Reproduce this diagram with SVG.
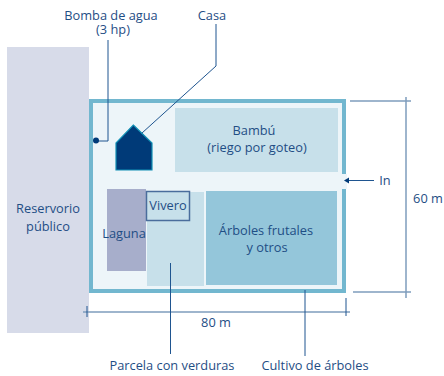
<svg xmlns="http://www.w3.org/2000/svg" width="444" height="376" viewBox="0 0 444 376">
<style>
text{font-family:"Open Sans","Liberation Sans",sans-serif;font-size:12.800px;fill:#1f4e85;text-anchor:middle}
.l{fill:none;stroke:#1f5590;stroke-width:1}
.d{fill:none;stroke:#7f9dbd;stroke-width:1.5}
</style>
<rect width="444" height="376" fill="#fff"/>
<g id="reservorio"><rect x="7" y="47" width="82" height="286" fill="#d7dbe9"/><text x="48" y="213">Reservorio</text><text x="48" y="231">público</text></g>
<g id="campo"><rect x="91" y="101" width="253" height="190" fill="#edf5f9" stroke="#72b7cf" stroke-width="4"/><rect x="341" y="174" width="6" height="15" fill="#edf5f9"/></g>
<g id="bambu"><rect x="175" y="108" width="163" height="64" fill="#c7e0ea"/><text x="254" y="135">Bambú</text><text x="257" y="152">(riego por goteo)</text></g>
<g id="laguna"><rect x="107" y="189" width="39" height="82" fill="#a7aecb"/><text x="124" y="238">Laguna</text></g>
<g id="parcela"><rect x="147" y="192" width="57" height="94" fill="#c7e0ea"/></g>
<g id="vivero"><rect x="146.500" y="191.500" width="43" height="29" fill="none" stroke="#4a6d9c" stroke-width="1.500"/><text x="168" y="210">Vivero</text></g>
<g id="arboles"><rect x="206" y="191" width="131" height="94" fill="#94c6da"/><text x="266" y="235">Árboles frutales</text><text x="267" y="252">y otros</text></g>
<g id="casa"><polygon points="133.300,125 152,143 152,170 116,170 116,143" fill="#003a78" stroke="#1190b5" stroke-width="1.200"/></g>
<g id="connectors">
<path class="l" d="M108 40V141H96"/><circle cx="96" cy="140.500" r="3" fill="#003a78"/>
<path class="l" d="M216 24V66L142 133"/>
<path class="l" d="M374 180.500H347"/><path d="M344 180.500l5-3v6z" fill="#003a78"/>
<path class="d" d="M350 101H411M406 97V298M353 292H411M83 312H350"/>
<path class="l" d="M87 306V317M346 298V316M170.500 263V354M305 290V356"/>
</g>
<g id="labels">
<text x="111" y="20">Bomba de agua</text><text x="113" y="34">(3 hp)</text><text x="212" y="20">Casa</text>
<text x="385" y="185">In</text><text x="428" y="203">60 m</text><text x="216" y="327">80 m</text>
<text x="172" y="370">Parcela con verduras</text><text x="315" y="370">Cultivo de árboles</text>
</g>
</svg>
